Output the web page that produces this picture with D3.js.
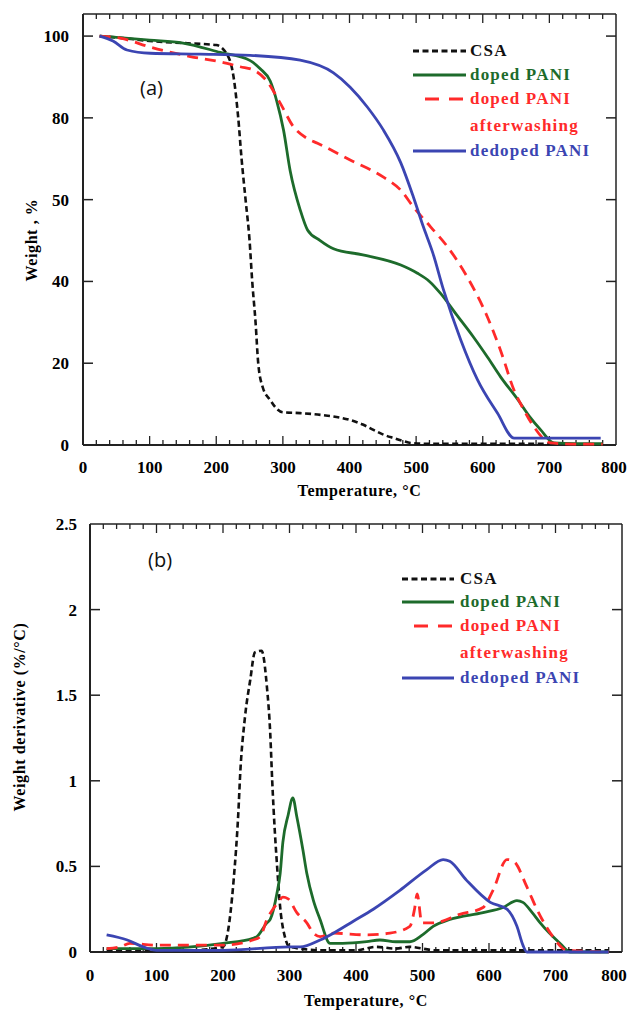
<!DOCTYPE html>
<html>
<head>
<meta charset="utf-8">
<script src="https://cdn.jsdelivr.net/npm/d3@7"></script>
<style>
  html, body { margin: 0; padding: 0; background: #fff; }
  svg { display: block; }
  .serif { font-family: "Liberation Serif", "DejaVu Serif", serif; font-weight: bold; }
</style>
</head>
<body>
<svg id="chart" width="633" height="1012"></svg>
<script>
// ---- data ----
const seriesNames = ['CSA', 'doped PANI', 'doped PANI', 'dedoped PANI']
const xTicks = [0, 100, 200, 300, 400, 500, 600, 700, 800]

// (a) TGA weight, %
const weightTicks = [0, 20, 40, 60, 80, 100]
const weightTickLabels = ['0', '20', '40', '50', '80', '100']

const csaTempA = [25, 60, 100, 150, 200, 218, 226, 233, 238, 244, 250, 254, 259, 263, 270, 281, 290, 300, 326, 360, 401, 420, 436, 450, 466, 480, 492, 520, 600, 700]
const csaWeight = [100, 99.5, 98.8, 98.3, 97.8, 95, 90, 80, 70, 60, 50, 40, 30, 20, 14, 11, 9, 8, 7.8, 7.3, 6.1, 5, 3.7, 2.6, 1.7, 1, 0.5, 0.3, 0.3, 0.3]

const dopedTempA = [25, 100, 150, 206, 251, 266, 281, 291, 301, 311, 326, 337, 356, 376, 420, 477, 502, 520, 537, 560, 586, 607, 627, 653, 670, 687, 707, 740, 780]
const dopedWeight = [100, 99, 98.3, 96, 94, 92, 89, 84, 77, 67, 57.5, 52.6, 50, 48, 46.5, 44, 42, 40, 37, 32, 26.4, 21.5, 16.6, 11, 7, 3.7, 0.5, 0.3, 0.3]

const washedTempA = [25, 56, 101, 161, 206, 236, 256, 276, 296, 316, 336, 352, 401, 451, 477, 496, 522, 547, 577, 607, 627, 647, 662, 677, 702, 740, 780]
const washedWeight = [100, 99.5, 97.3, 95, 93.7, 92.5, 91.7, 89, 83.6, 77.8, 75, 73.8, 69.7, 65.5, 62.3, 58.2, 53.3, 48.5, 41, 31.3, 23, 13.4, 8.5, 4.4, 0.5, 0.2, 0.2]

const dedopedTempA = [25, 45, 66, 101, 176, 251, 326, 376, 401, 427, 451, 477, 496, 511, 525, 541, 567, 592, 622, 647, 660, 777]
const dedopedWeight = [100, 98.8, 96.6, 95.8, 95.6, 95.3, 94.1, 91, 87.5, 82.6, 77, 69, 60.6, 53.3, 47, 38, 25.7, 16, 7.8, 1.7, 1.7, 1.7]

// (b) derivative, %/°C
const derivTicks = [0, 0.5, 1, 1.5, 2, 2.5]
const derivTickLabels = ['0', '0.5', '1', '1.5', '2', '2.5']

const csaTempB = [25, 100, 150, 200, 206, 216, 223, 226, 233, 241, 248, 258, 266, 271, 274, 278, 281, 286, 293, 300, 350, 400, 430, 460, 480, 520, 600, 700, 780]
const csaDeriv = [0.01, 0.01, 0.01, 0.03, 0.09, 0.42, 0.81, 1.05, 1.37, 1.59, 1.75, 1.76, 1.55, 1.28, 1.0, 0.7, 0.52, 0.26, 0.09, 0.03, 0.01, 0.01, 0.03, 0.02, 0.03, 0.01, 0.01, 0.01, 0.01]

const dopedTempB = [25, 100, 200, 245, 251, 266, 271, 281, 286, 290, 298, 305, 311, 320, 326, 336, 346, 361, 380, 416, 436, 460, 481, 500, 516, 541, 591, 621, 642, 651, 665, 677, 707, 722, 780]
const dopedDeriv = [0.02, 0.02, 0.05, 0.08, 0.09, 0.17, 0.19, 0.34, 0.46, 0.64, 0.8, 0.9, 0.79, 0.6, 0.46, 0.3, 0.19, 0.05, 0.05, 0.06, 0.07, 0.06, 0.06, 0.1, 0.15, 0.19, 0.23, 0.26, 0.3, 0.29, 0.23, 0.17, 0.05, 0.0, 0.0]

const washedTempB = [25, 45, 60, 100, 200, 245, 256, 266, 275, 283, 290, 298, 311, 326, 336, 346, 366, 416, 451, 481, 488, 492, 499, 516, 556, 591, 606, 627, 637, 657, 672, 696, 717, 780]
const washedDeriv = [0.02, 0.03, 0.05, 0.04, 0.04, 0.07, 0.09, 0.19, 0.25, 0.29, 0.32, 0.31, 0.23, 0.17, 0.11, 0.09, 0.11, 0.1, 0.11, 0.15, 0.25, 0.34, 0.17, 0.17, 0.22, 0.26, 0.36, 0.54, 0.53, 0.38, 0.25, 0.09, 0.01, 0.0]

const dedopedTempB = [25, 56, 80, 100, 200, 301, 316, 346, 366, 396, 426, 466, 506, 531, 541, 566, 602, 627, 642, 651, 657, 700, 780]
const dedopedDeriv = [0.1, 0.07, 0.03, 0.01, 0.01, 0.03, 0.03, 0.07, 0.11, 0.18, 0.25, 0.36, 0.48, 0.54, 0.53, 0.42, 0.29, 0.25, 0.15, 0.04, 0.0, 0.0, 0.0]

const colors = ['#111111', '#1d6b2b', '#ff2a2a', '#3b45b2']
const dashes = ['6,3.5', null, '11,7', null]

const svg = d3.select('#chart')

function drawPanel(opt) {
  const { left, right, top, bottom, yMax, yTicks, yLabels, series, tag, tagPos, legend, yTitle, yTitleX, yTitleY, xTitleY, labelRight, xLabelY } = opt
  const x = d3.scaleLinear().domain([0, 800]).range([left, right])
  const y = d3.scaleLinear().domain([0, yMax]).range([bottom, top])
  const g = svg.append('g')

  // frame: top and right thin
  g.append('line').attr('x1', left).attr('x2', right).attr('y1', top).attr('y2', top)
    .attr('stroke', '#222').attr('stroke-width', 1.5)
  g.append('line').attr('x1', right).attr('x2', right).attr('y1', top).attr('y2', bottom)
    .attr('stroke', '#222').attr('stroke-width', 1.5)

  // minor ticks on top and bottom, every 20
  const minor = d3.range(20, 800, 20)
  minor.forEach(t => {
    const len = t % 100 === 0 ? 9 : 5
    g.append('line').attr('x1', x(t)).attr('x2', x(t)).attr('y1', bottom).attr('y2', bottom - len)
      .attr('stroke', '#222').attr('stroke-width', 1.3)
    g.append('line').attr('x1', x(t)).attr('x2', x(t)).attr('y1', top).attr('y2', top + len)
      .attr('stroke', '#222').attr('stroke-width', 1.3)
  })
  // y ticks inward on left and right
  yTicks.slice(1, -1).concat(yTicks[yTicks.length - 1] < yMax ? [yTicks[yTicks.length - 1]] : []).forEach(v => {
    g.append('line').attr('x1', left).attr('x2', left + 10).attr('y1', y(v)).attr('y2', y(v))
      .attr('stroke', '#222').attr('stroke-width', 1.5)
    g.append('line').attr('x1', right).attr('x2', right - 10).attr('y1', y(v)).attr('y2', y(v))
      .attr('stroke', '#222').attr('stroke-width', 1.5)
  })

  // axes lines left & bottom
  g.append('line').attr('x1', left).attr('x2', right).attr('y1', bottom).attr('y2', bottom)
    .attr('stroke', '#222').attr('stroke-width', 2)
  g.append('line').attr('x1', left).attr('x2', left).attr('y1', top).attr('y2', bottom)
    .attr('stroke', '#222').attr('stroke-width', 2)

  // tick labels (keep the last one inside the page)
  g.selectAll('.xl').data(xTicks).enter().append('text')
    .attr('class', 'serif')
    .attr('x', d => Math.min(x(d), 614)).attr('y', xLabelY)
    .attr('text-anchor', 'middle').attr('font-size', 17)
    .text(d => d)
  g.selectAll('.yl').data(yTicks).enter().append('text')
    .attr('class', 'serif')
    .attr('x', labelRight).attr('y', d => y(d) + 6)
    .attr('text-anchor', 'end').attr('font-size', 17)
    .text((d, i) => yLabels[i])

  // titles
  g.append('text').attr('class', 'serif')
    .attr('x', (left + right) / 2 + 10).attr('y', xTitleY)
    .attr('text-anchor', 'middle').attr('font-size', 16).attr('letter-spacing', 0.6)
    .text('Temperature, °C')
  g.append('text').attr('class', 'serif')
    .attr('transform', `translate(${yTitleX},${yTitleY}) rotate(-90)`)
    .attr('text-anchor', 'middle').attr('font-size', 16).attr('letter-spacing', 0.6)
    .text(yTitle)

  g.append('text')
    .attr('x', tagPos[0]).attr('y', tagPos[1])
    .attr('font-family', '"Open Sans", "Noto Sans", sans-serif')
    .attr('font-size', 20).attr('fill', '#111')
    .text(tag)

  // curves
  const line = d3.line().x(d => x(d[0])).y(d => y(d[1])).curve(d3.curveMonotoneX)
  series.forEach((s, i) => {
    const pts = s[0].map((t, k) => [t, s[1][k]])
    g.append('path').datum(pts)
      .attr('d', line)
      .attr('fill', 'none')
      .attr('stroke', colors[i])
      .attr('stroke-width', i === 0 ? 2.6 : 2.8)
      .attr('stroke-dasharray', dashes[i])
  })

  // legend
  const lg = g.append('g')
  const rows = [
    { txt: seriesNames[0], c: 0, y: legend.rows[0] },
    { txt: seriesNames[1], c: 1, y: legend.rows[1] },
    { txt: seriesNames[2], c: 2, y: legend.rows[2] },
    { txt: 'afterwashing', c: 2, y: legend.rows[3], noLine: true },
    { txt: seriesNames[3], c: 3, y: legend.rows[4] }
  ]
  rows.forEach(r => {
    if (!r.noLine) {
      const x1 = r.c === 2 ? legend.x1 + 12 : legend.x1
      lg.append('line').attr('x1', x1).attr('x2', legend.x2)
        .attr('y1', r.y - 5).attr('y2', r.y - 5)
        .attr('stroke', colors[r.c]).attr('stroke-width', 3)
        .attr('stroke-dasharray', r.c === 0 ? '6,3.5' : r.c === 2 ? '14,10' : null)
    }
    lg.append('text').attr('class', 'serif')
      .attr('x', legend.tx).attr('y', r.y)
      .attr('font-size', 17).attr('letter-spacing', 1.2)
      .attr('fill', colors[r.c])
      .text(r.txt)
  })
}

drawPanel({
  left: 83, right: 616, top: 14, bottom: 445, yMax: 105.4,
  yTicks: weightTicks, yLabels: weightTickLabels,
  series: [[csaTempA, csaWeight], [dopedTempA, dopedWeight], [washedTempA, washedWeight], [dedopedTempA, dedopedWeight]],
  tag: '(a)', tagPos: [140, 95],
  legend: { x1: 413, x2: 466, tx: 470, rows: [56, 80, 104, 131, 156] },
  yTitle: 'Weight , %', yTitleX: 37, yTitleY: 240, xTitleY: 496,
  labelRight: 69, xLabelY: 473
})

drawPanel({
  left: 90, right: 622, top: 524, bottom: 952, yMax: 2.5,
  yTicks: derivTicks, yLabels: derivTickLabels,
  series: [[csaTempB, csaDeriv], [dopedTempB, dopedDeriv], [washedTempB, washedDeriv], [dedopedTempB, dedopedDeriv]],
  tag: '(b)', tagPos: [148, 567],
  legend: { x1: 402, x2: 454, tx: 460, rows: [584, 607, 631, 658, 683] },
  yTitle: 'Weight derivative (%/°C)', yTitleX: 25, yTitleY: 717, xTitleY: 1006,
  labelRight: 77, xLabelY: 981
})
</script>
</body>
</html>
